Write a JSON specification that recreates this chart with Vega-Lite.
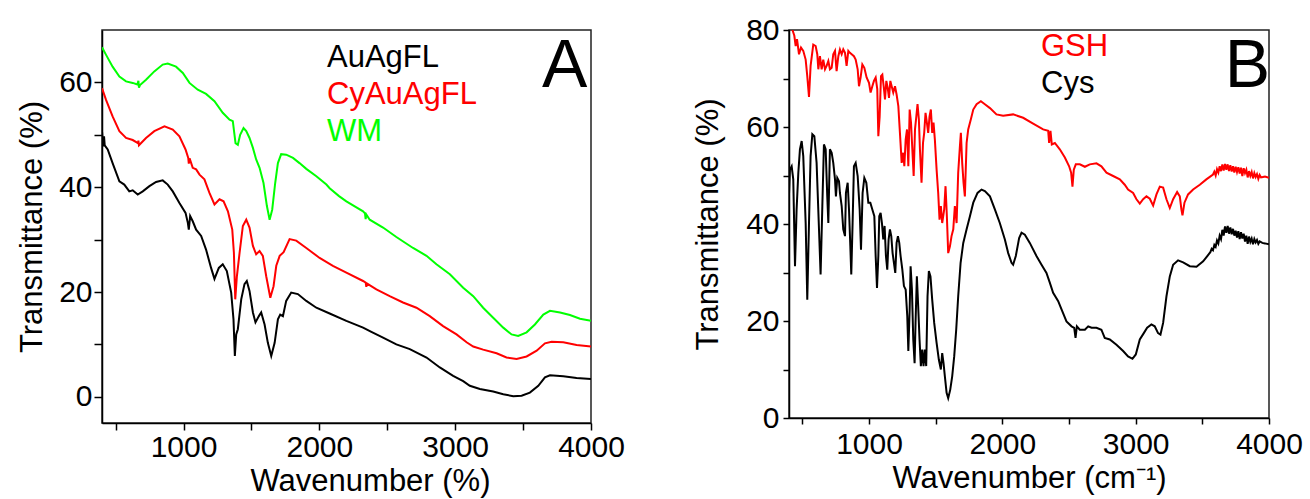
{
"$schema": "https://vega.github.io/schema/vega-lite/v6.json",
"background": "white",
"padding": {"left": 15, "top": 14, "right": 5, "bottom": 2},
"spacing": 198,
"bounds": "flush",
"config": {
 "view": {"stroke": "#222222", "strokeWidth": 1.5},
 "font": "Liberation Sans",
 "axis": {"grid": false, "domainColor": "black", "domainWidth": 1.5, "tickColor": "black", "tickWidth": 1.5, "labelFont": "Liberation Sans", "labelFontSize": 30, "labelColor": "black", "titleFont": "Liberation Sans", "titleFontSize": 31, "titleFontWeight": "normal", "titleColor": "black", "labelFlush": false, "labelOverlap": false, "labelBound": false},
 "legend": {"labelFont": "Liberation Sans", "labelFontSize": 31, "symbolSize": 0, "symbolOpacity": 0, "symbolStrokeWidth": 0, "labelOffset": 0, "padding": 0, "labelLimit": 0, "rowPadding": 5}
},
"resolve": {"scale": {"color": "independent", "x": "independent", "y": "independent"}, "legend": {"color": "independent"}},
"hconcat": [
{
 "width": 489, "height": 393,
 "data": {"values": [
{"series":"WM","wavenumber":400,"transmittance":66.7},{"series":"WM","wavenumber":429,"transmittance":65.3},{"series":"WM","wavenumber":478,"transmittance":63.0},{"series":"WM","wavenumber":528,"transmittance":61.1},{"series":"WM","wavenumber":577,"transmittance":60.2},{"series":"WM","wavenumber":626,"transmittance":59.9},{"series":"WM","wavenumber":660,"transmittance":59.6},{"series":"WM","wavenumber":668,"transmittance":60.3},{"series":"WM","wavenumber":672,"transmittance":59.0},{"series":"WM","wavenumber":680,"transmittance":59.5},{"series":"WM","wavenumber":724,"transmittance":60.5},{"series":"WM","wavenumber":785,"transmittance":62.1},{"series":"WM","wavenumber":847,"transmittance":63.4},{"series":"WM","wavenumber":884,"transmittance":63.6},{"series":"WM","wavenumber":945,"transmittance":63.0},{"series":"WM","wavenumber":995,"transmittance":61.8},{"series":"WM","wavenumber":1044,"transmittance":59.9},{"series":"WM","wavenumber":1105,"transmittance":58.6},{"series":"WM","wavenumber":1166,"transmittance":57.8},{"series":"WM","wavenumber":1228,"transmittance":56.4},{"series":"WM","wavenumber":1289,"transmittance":54.2},{"series":"WM","wavenumber":1339,"transmittance":52.9},{"series":"WM","wavenumber":1363,"transmittance":52.6},{"series":"WM","wavenumber":1383,"transmittance":48.4},{"series":"WM","wavenumber":1400,"transmittance":48.1},{"series":"WM","wavenumber":1417,"transmittance":50.0},{"series":"WM","wavenumber":1442,"transmittance":51.3},{"series":"WM","wavenumber":1462,"transmittance":50.7},{"series":"WM","wavenumber":1486,"transmittance":49.4},{"series":"WM","wavenumber":1511,"transmittance":47.5},{"series":"WM","wavenumber":1535,"transmittance":45.3},{"series":"WM","wavenumber":1560,"transmittance":43.7},{"series":"WM","wavenumber":1589,"transmittance":40.8},{"series":"WM","wavenumber":1614,"transmittance":36.4},{"series":"WM","wavenumber":1634,"transmittance":33.8},{"series":"WM","wavenumber":1653,"transmittance":35.7},{"series":"WM","wavenumber":1675,"transmittance":40.8},{"series":"WM","wavenumber":1695,"transmittance":44.6},{"series":"WM","wavenumber":1719,"transmittance":46.3},{"series":"WM","wavenumber":1756,"transmittance":46.2},{"series":"WM","wavenumber":1806,"transmittance":45.6},{"series":"WM","wavenumber":1854,"transmittance":44.6},{"series":"WM","wavenumber":1904,"transmittance":43.5},{"series":"WM","wavenumber":1978,"transmittance":42.1},{"series":"WM","wavenumber":2052,"transmittance":40.5},{"series":"WM","wavenumber":2076,"transmittance":39.8},{"series":"WM","wavenumber":2145,"transmittance":38.3},{"series":"WM","wavenumber":2199,"transmittance":37.3},{"series":"WM","wavenumber":2322,"transmittance":35.4},{"series":"WM","wavenumber":2336,"transmittance":35.0},{"series":"WM","wavenumber":2341,"transmittance":33.9},{"series":"WM","wavenumber":2346,"transmittance":34.8},{"series":"WM","wavenumber":2371,"transmittance":33.8},{"series":"WM","wavenumber":2469,"transmittance":32.3},{"series":"WM","wavenumber":2567,"transmittance":30.5},{"series":"WM","wavenumber":2690,"transmittance":28.4},{"series":"WM","wavenumber":2789,"transmittance":26.9},{"series":"WM","wavenumber":2862,"transmittance":25.3},{"series":"WM","wavenumber":2961,"transmittance":23.4},{"series":"WM","wavenumber":3059,"transmittance":20.8},{"series":"WM","wavenumber":3133,"transmittance":19.2},{"series":"WM","wavenumber":3206,"transmittance":17.0},{"series":"WM","wavenumber":3280,"transmittance":15.1},{"series":"WM","wavenumber":3354,"transmittance":13.2},{"series":"WM","wavenumber":3415,"transmittance":11.9},{"series":"WM","wavenumber":3464,"transmittance":11.6},{"series":"WM","wavenumber":3526,"transmittance":12.3},{"series":"WM","wavenumber":3587,"transmittance":13.8},{"series":"WM","wavenumber":3649,"transmittance":15.7},{"series":"WM","wavenumber":3698,"transmittance":16.4},{"series":"WM","wavenumber":3772,"transmittance":16.1},{"series":"WM","wavenumber":3845,"transmittance":15.6},{"series":"WM","wavenumber":3919,"transmittance":14.9},{"series":"WM","wavenumber":4000,"transmittance":14.5},
{"series":"CyAuAgFL","wavenumber":400,"transmittance":58.9},{"series":"CyAuAgFL","wavenumber":429,"transmittance":56.7},{"series":"CyAuAgFL","wavenumber":478,"transmittance":53.5},{"series":"CyAuAgFL","wavenumber":528,"transmittance":50.7},{"series":"CyAuAgFL","wavenumber":577,"transmittance":49.4},{"series":"CyAuAgFL","wavenumber":626,"transmittance":49.0},{"series":"CyAuAgFL","wavenumber":665,"transmittance":48.4},{"series":"CyAuAgFL","wavenumber":668,"transmittance":48.9},{"series":"CyAuAgFL","wavenumber":672,"transmittance":48.0},{"series":"CyAuAgFL","wavenumber":724,"transmittance":49.4},{"series":"CyAuAgFL","wavenumber":785,"transmittance":50.7},{"series":"CyAuAgFL","wavenumber":860,"transmittance":51.6},{"series":"CyAuAgFL","wavenumber":921,"transmittance":51.0},{"series":"CyAuAgFL","wavenumber":970,"transmittance":49.7},{"series":"CyAuAgFL","wavenumber":1015,"transmittance":47.2},{"series":"CyAuAgFL","wavenumber":1035,"transmittance":45.6},{"series":"CyAuAgFL","wavenumber":1039,"transmittance":44.5},{"series":"CyAuAgFL","wavenumber":1045,"transmittance":45.5},{"series":"CyAuAgFL","wavenumber":1068,"transmittance":43.7},{"series":"CyAuAgFL","wavenumber":1093,"transmittance":43.4},{"series":"CyAuAgFL","wavenumber":1118,"transmittance":42.4},{"series":"CyAuAgFL","wavenumber":1154,"transmittance":41.5},{"series":"CyAuAgFL","wavenumber":1191,"transmittance":38.9},{"series":"CyAuAgFL","wavenumber":1228,"transmittance":36.7},{"series":"CyAuAgFL","wavenumber":1265,"transmittance":37.7},{"series":"CyAuAgFL","wavenumber":1295,"transmittance":37.3},{"series":"CyAuAgFL","wavenumber":1327,"transmittance":35.4},{"series":"CyAuAgFL","wavenumber":1359,"transmittance":31.9},{"series":"CyAuAgFL","wavenumber":1371,"transmittance":27.5},{"series":"CyAuAgFL","wavenumber":1381,"transmittance":18.6},{"series":"CyAuAgFL","wavenumber":1393,"transmittance":23.0},{"series":"CyAuAgFL","wavenumber":1413,"transmittance":27.5},{"series":"CyAuAgFL","wavenumber":1437,"transmittance":32.6},{"series":"CyAuAgFL","wavenumber":1462,"transmittance":33.8},{"series":"CyAuAgFL","wavenumber":1486,"transmittance":32.3},{"series":"CyAuAgFL","wavenumber":1511,"transmittance":28.8},{"series":"CyAuAgFL","wavenumber":1535,"transmittance":27.2},{"series":"CyAuAgFL","wavenumber":1560,"transmittance":27.8},{"series":"CyAuAgFL","wavenumber":1584,"transmittance":26.9},{"series":"CyAuAgFL","wavenumber":1609,"transmittance":23.0},{"series":"CyAuAgFL","wavenumber":1639,"transmittance":18.9},{"series":"CyAuAgFL","wavenumber":1663,"transmittance":21.1},{"series":"CyAuAgFL","wavenumber":1683,"transmittance":25.0},{"series":"CyAuAgFL","wavenumber":1708,"transmittance":26.9},{"series":"CyAuAgFL","wavenumber":1737,"transmittance":27.6},{"series":"CyAuAgFL","wavenumber":1781,"transmittance":30.1},{"series":"CyAuAgFL","wavenumber":1830,"transmittance":29.8},{"series":"CyAuAgFL","wavenumber":1904,"transmittance":28.4},{"series":"CyAuAgFL","wavenumber":2002,"transmittance":26.5},{"series":"CyAuAgFL","wavenumber":2100,"transmittance":25.0},{"series":"CyAuAgFL","wavenumber":2199,"transmittance":23.7},{"series":"CyAuAgFL","wavenumber":2322,"transmittance":22.1},{"series":"CyAuAgFL","wavenumber":2341,"transmittance":21.8},{"series":"CyAuAgFL","wavenumber":2346,"transmittance":21.0},{"series":"CyAuAgFL","wavenumber":2352,"transmittance":21.6},{"series":"CyAuAgFL","wavenumber":2420,"transmittance":20.5},{"series":"CyAuAgFL","wavenumber":2518,"transmittance":19.2},{"series":"CyAuAgFL","wavenumber":2616,"transmittance":18.0},{"series":"CyAuAgFL","wavenumber":2715,"transmittance":17.0},{"series":"CyAuAgFL","wavenumber":2813,"transmittance":15.4},{"series":"CyAuAgFL","wavenumber":2911,"transmittance":13.5},{"series":"CyAuAgFL","wavenumber":3010,"transmittance":11.9},{"series":"CyAuAgFL","wavenumber":3084,"transmittance":10.4},{"series":"CyAuAgFL","wavenumber":3133,"transmittance":9.6},{"series":"CyAuAgFL","wavenumber":3206,"transmittance":9.0},{"series":"CyAuAgFL","wavenumber":3305,"transmittance":8.3},{"series":"CyAuAgFL","wavenumber":3378,"transmittance":7.5},{"series":"CyAuAgFL","wavenumber":3452,"transmittance":7.2},{"series":"CyAuAgFL","wavenumber":3526,"transmittance":7.7},{"series":"CyAuAgFL","wavenumber":3600,"transmittance":8.8},{"series":"CyAuAgFL","wavenumber":3661,"transmittance":10.2},{"series":"CyAuAgFL","wavenumber":3710,"transmittance":10.5},{"series":"CyAuAgFL","wavenumber":3796,"transmittance":10.4},{"series":"CyAuAgFL","wavenumber":3894,"transmittance":9.9},{"series":"CyAuAgFL","wavenumber":4000,"transmittance":9.6},
{"series":"AuAgFL","wavenumber":400,"transmittance":50.7},{"series":"AuAgFL","wavenumber":405,"transmittance":49.0},{"series":"AuAgFL","wavenumber":410,"transmittance":47.8},{"series":"AuAgFL","wavenumber":415,"transmittance":49.7},{"series":"AuAgFL","wavenumber":420,"transmittance":48.0},{"series":"AuAgFL","wavenumber":442,"transmittance":47.2},{"series":"AuAgFL","wavenumber":478,"transmittance":44.6},{"series":"AuAgFL","wavenumber":528,"transmittance":41.1},{"series":"AuAgFL","wavenumber":564,"transmittance":40.5},{"series":"AuAgFL","wavenumber":601,"transmittance":39.2},{"series":"AuAgFL","wavenumber":626,"transmittance":39.4},{"series":"AuAgFL","wavenumber":663,"transmittance":38.6},{"series":"AuAgFL","wavenumber":700,"transmittance":39.2},{"series":"AuAgFL","wavenumber":749,"transmittance":40.2},{"series":"AuAgFL","wavenumber":798,"transmittance":41.0},{"series":"AuAgFL","wavenumber":847,"transmittance":41.3},{"series":"AuAgFL","wavenumber":884,"transmittance":40.5},{"series":"AuAgFL","wavenumber":921,"transmittance":39.2},{"series":"AuAgFL","wavenumber":970,"transmittance":37.0},{"series":"AuAgFL","wavenumber":1015,"transmittance":35.1},{"series":"AuAgFL","wavenumber":1032,"transmittance":33.2},{"series":"AuAgFL","wavenumber":1039,"transmittance":31.9},{"series":"AuAgFL","wavenumber":1049,"transmittance":34.5},{"series":"AuAgFL","wavenumber":1068,"transmittance":33.5},{"series":"AuAgFL","wavenumber":1093,"transmittance":31.9},{"series":"AuAgFL","wavenumber":1130,"transmittance":30.7},{"series":"AuAgFL","wavenumber":1166,"transmittance":28.1},{"series":"AuAgFL","wavenumber":1203,"transmittance":24.6},{"series":"AuAgFL","wavenumber":1228,"transmittance":22.5},{"series":"AuAgFL","wavenumber":1260,"transmittance":24.6},{"series":"AuAgFL","wavenumber":1289,"transmittance":25.3},{"series":"AuAgFL","wavenumber":1319,"transmittance":24.0},{"series":"AuAgFL","wavenumber":1351,"transmittance":19.9},{"series":"AuAgFL","wavenumber":1368,"transmittance":14.8},{"series":"AuAgFL","wavenumber":1378,"transmittance":7.8},{"series":"AuAgFL","wavenumber":1388,"transmittance":11.9},{"series":"AuAgFL","wavenumber":1400,"transmittance":12.9},{"series":"AuAgFL","wavenumber":1425,"transmittance":18.6},{"series":"AuAgFL","wavenumber":1449,"transmittance":21.5},{"series":"AuAgFL","wavenumber":1466,"transmittance":22.1},{"series":"AuAgFL","wavenumber":1486,"transmittance":20.2},{"series":"AuAgFL","wavenumber":1511,"transmittance":16.1},{"series":"AuAgFL","wavenumber":1530,"transmittance":14.2},{"series":"AuAgFL","wavenumber":1555,"transmittance":15.4},{"series":"AuAgFL","wavenumber":1572,"transmittance":16.1},{"series":"AuAgFL","wavenumber":1597,"transmittance":13.8},{"series":"AuAgFL","wavenumber":1621,"transmittance":10.3},{"series":"AuAgFL","wavenumber":1646,"transmittance":7.8},{"series":"AuAgFL","wavenumber":1671,"transmittance":10.3},{"series":"AuAgFL","wavenumber":1695,"transmittance":14.8},{"series":"AuAgFL","wavenumber":1712,"transmittance":15.7},{"series":"AuAgFL","wavenumber":1732,"transmittance":15.4},{"series":"AuAgFL","wavenumber":1756,"transmittance":18.3},{"series":"AuAgFL","wavenumber":1793,"transmittance":19.9},{"series":"AuAgFL","wavenumber":1842,"transmittance":19.6},{"series":"AuAgFL","wavenumber":1904,"transmittance":18.3},{"series":"AuAgFL","wavenumber":1978,"transmittance":17.0},{"series":"AuAgFL","wavenumber":2076,"transmittance":15.9},{"series":"AuAgFL","wavenumber":2199,"transmittance":14.5},{"series":"AuAgFL","wavenumber":2322,"transmittance":13.2},{"series":"AuAgFL","wavenumber":2383,"transmittance":12.4},{"series":"AuAgFL","wavenumber":2469,"transmittance":11.3},{"series":"AuAgFL","wavenumber":2567,"transmittance":10.0},{"series":"AuAgFL","wavenumber":2666,"transmittance":9.1},{"series":"AuAgFL","wavenumber":2789,"transmittance":7.5},{"series":"AuAgFL","wavenumber":2887,"transmittance":5.6},{"series":"AuAgFL","wavenumber":2985,"transmittance":4.0},{"series":"AuAgFL","wavenumber":3059,"transmittance":3.0},{"series":"AuAgFL","wavenumber":3108,"transmittance":2.1},{"series":"AuAgFL","wavenumber":3182,"transmittance":1.5},{"series":"AuAgFL","wavenumber":3280,"transmittance":1.0},{"series":"AuAgFL","wavenumber":3354,"transmittance":0.5},{"series":"AuAgFL","wavenumber":3428,"transmittance":0.1},{"series":"AuAgFL","wavenumber":3489,"transmittance":0.2},{"series":"AuAgFL","wavenumber":3550,"transmittance":0.8},{"series":"AuAgFL","wavenumber":3612,"transmittance":2.1},{"series":"AuAgFL","wavenumber":3661,"transmittance":3.7},{"series":"AuAgFL","wavenumber":3698,"transmittance":4.1},{"series":"AuAgFL","wavenumber":3796,"transmittance":3.9},{"series":"AuAgFL","wavenumber":3894,"transmittance":3.6},{"series":"AuAgFL","wavenumber":4000,"transmittance":3.4}
 ]},
 "layer": [
  {
   "mark": {"type": "line", "strokeWidth": 2, "clip": true},
   "encoding": {
    "x": {"field": "wavenumber", "type": "quantitative", "scale": {"domain": [400, 4000], "nice": false, "zero": false},
          "axis": {"title": "Wavenumber (%)", "values": [500,1000,1500,2000,2500,3000,3500,4000], "labelExpr": "datum.value % 1000 === 0 ? datum.label : ''", "format": "d", "tickSize": 7, "labelPadding": 2, "titlePadding": 4, "titleX": 268}},
    "y": {"field": "transmittance", "type": "quantitative", "scale": {"domain": [-5, 70], "nice": false, "zero": false},
          "axis": {"title": "Transmittance (%)", "values": [0,10,20,30,40,50,60], "labelExpr": "datum.value % 20 === 0 ? datum.label : ''", "tickSize": 8, "labelPadding": 2, "titlePadding": 10}},
    "color": {"field": "series", "type": "nominal", "scale": {"domain": ["AuAgFL","CyAuAgFL","WM"], "range": ["#000000","#ff0000","#00ff00"]},
          "legend": {"title": null, "orient": "none", "legendX": 194, "legendY": 12,
                     "encode": {"labels": {"update": {"fill": {"signal": "datum.value === 'CyAuAgFL' ? '#ff0000' : datum.value === 'WM' ? '#00ff00' : '#000000'"}}}}}}
   }
  },
  {
   "data": {"values": [{"label": "A"}]},
   "mark": {"type": "text", "fontSize": 68, "font": "Liberation Sans", "align": "right", "baseline": "alphabetic", "color": "black"},
   "encoding": {
    "x": {"datum": 3974, "type": "quantitative", "axis": {"title": "Wavenumber (%)"}},
    "y": {"datum": 59.1, "type": "quantitative", "axis": {"title": "Transmittance (%)"}},
    "text": {"field": "label"}
   }
  }
 ]
},
{
 "width": 480, "height": 388,
 "data": {"values": [
{"series":"GSH","wavenumber":400,"transmittance":81},{"series":"GSH","wavenumber":425,"transmittance":80.1},{"series":"GSH","wavenumber":440,"transmittance":78.8},{"series":"GSH","wavenumber":450,"transmittance":76.7},{"series":"GSH","wavenumber":460,"transmittance":78.1},{"series":"GSH","wavenumber":475,"transmittance":75.0},{"series":"GSH","wavenumber":490,"transmittance":76.4},{"series":"GSH","wavenumber":507,"transmittance":75.7},{"series":"GSH","wavenumber":525,"transmittance":73.9},{"series":"GSH","wavenumber":537,"transmittance":70.5},{"series":"GSH","wavenumber":550,"transmittance":66.2},{"series":"GSH","wavenumber":562,"transmittance":72.6},{"series":"GSH","wavenumber":582,"transmittance":77.0},{"series":"GSH","wavenumber":600,"transmittance":76.7},{"series":"GSH","wavenumber":612,"transmittance":75.0},{"series":"GSH","wavenumber":620,"transmittance":71.9},{"series":"GSH","wavenumber":632,"transmittance":74.6},{"series":"GSH","wavenumber":645,"transmittance":71.9},{"series":"GSH","wavenumber":657,"transmittance":73.9},{"series":"GSH","wavenumber":670,"transmittance":71.9},{"series":"GSH","wavenumber":682,"transmittance":72.6},{"series":"GSH","wavenumber":695,"transmittance":73.6},{"series":"GSH","wavenumber":707,"transmittance":71.9},{"series":"GSH","wavenumber":720,"transmittance":72.2},{"series":"GSH","wavenumber":732,"transmittance":75.0},{"series":"GSH","wavenumber":745,"transmittance":75.7},{"series":"GSH","wavenumber":757,"transmittance":71.5},{"series":"GSH","wavenumber":770,"transmittance":74.6},{"series":"GSH","wavenumber":782,"transmittance":76.0},{"series":"GSH","wavenumber":795,"transmittance":75.0},{"series":"GSH","wavenumber":807,"transmittance":76.0},{"series":"GSH","wavenumber":820,"transmittance":75.3},{"series":"GSH","wavenumber":832,"transmittance":72.6},{"series":"GSH","wavenumber":845,"transmittance":75.7},{"series":"GSH","wavenumber":857,"transmittance":75.3},{"series":"GSH","wavenumber":870,"transmittance":75.0},{"series":"GSH","wavenumber":887,"transmittance":74.6},{"series":"GSH","wavenumber":900,"transmittance":73.9},{"series":"GSH","wavenumber":915,"transmittance":71.9},{"series":"GSH","wavenumber":925,"transmittance":68.4},{"series":"GSH","wavenumber":937,"transmittance":70.2},{"series":"GSH","wavenumber":950,"transmittance":72.9},{"series":"GSH","wavenumber":965,"transmittance":72.2},{"series":"GSH","wavenumber":982,"transmittance":70.2},{"series":"GSH","wavenumber":1000,"transmittance":69.1},{"series":"GSH","wavenumber":1012,"transmittance":67.1},{"series":"GSH","wavenumber":1025,"transmittance":68.4},{"series":"GSH","wavenumber":1037,"transmittance":69.5},{"series":"GSH","wavenumber":1050,"transmittance":70.2},{"series":"GSH","wavenumber":1062,"transmittance":67.8},{"series":"GSH","wavenumber":1070,"transmittance":58.1},{"series":"GSH","wavenumber":1080,"transmittance":62.2},{"series":"GSH","wavenumber":1090,"transmittance":70.5},{"series":"GSH","wavenumber":1100,"transmittance":70.8},{"series":"GSH","wavenumber":1110,"transmittance":68.4},{"series":"GSH","wavenumber":1120,"transmittance":65.7},{"series":"GSH","wavenumber":1130,"transmittance":69.5},{"series":"GSH","wavenumber":1140,"transmittance":68.1},{"series":"GSH","wavenumber":1150,"transmittance":66.0},{"series":"GSH","wavenumber":1160,"transmittance":69.5},{"series":"GSH","wavenumber":1170,"transmittance":68.4},{"series":"GSH","wavenumber":1182,"transmittance":67.1},{"series":"GSH","wavenumber":1195,"transmittance":68.4},{"series":"GSH","wavenumber":1207,"transmittance":66.7},{"series":"GSH","wavenumber":1220,"transmittance":64.3},{"series":"GSH","wavenumber":1232,"transmittance":58.8},{"series":"GSH","wavenumber":1245,"transmittance":52.6},{"series":"GSH","wavenumber":1257,"transmittance":54.7},{"series":"GSH","wavenumber":1265,"transmittance":51.9},{"series":"GSH","wavenumber":1275,"transmittance":57.4},{"series":"GSH","wavenumber":1285,"transmittance":59.5},{"series":"GSH","wavenumber":1295,"transmittance":51.9},{"series":"GSH","wavenumber":1305,"transmittance":63.6},{"series":"GSH","wavenumber":1315,"transmittance":60.9},{"series":"GSH","wavenumber":1325,"transmittance":55.4},{"series":"GSH","wavenumber":1335,"transmittance":49.9},{"series":"GSH","wavenumber":1345,"transmittance":59.5},{"series":"GSH","wavenumber":1355,"transmittance":62.2},{"series":"GSH","wavenumber":1364,"transmittance":64.7},{"series":"GSH","wavenumber":1374,"transmittance":61.6},{"series":"GSH","wavenumber":1382,"transmittance":55.4},{"series":"GSH","wavenumber":1394,"transmittance":48.5},{"series":"GSH","wavenumber":1405,"transmittance":56.7},{"series":"GSH","wavenumber":1414,"transmittance":58.8},{"series":"GSH","wavenumber":1424,"transmittance":62.9},{"series":"GSH","wavenumber":1434,"transmittance":60.9},{"series":"GSH","wavenumber":1444,"transmittance":58.8},{"series":"GSH","wavenumber":1454,"transmittance":62.2},{"series":"GSH","wavenumber":1464,"transmittance":63.6},{"series":"GSH","wavenumber":1474,"transmittance":58.8},{"series":"GSH","wavenumber":1484,"transmittance":60.9},{"series":"GSH","wavenumber":1494,"transmittance":57.4},{"series":"GSH","wavenumber":1507,"transmittance":51.2},{"series":"GSH","wavenumber":1519,"transmittance":46.4},{"series":"GSH","wavenumber":1529,"transmittance":40.9},{"series":"GSH","wavenumber":1539,"transmittance":43.7},{"series":"GSH","wavenumber":1549,"transmittance":40.2},{"series":"GSH","wavenumber":1564,"transmittance":43.0},{"series":"GSH","wavenumber":1574,"transmittance":47.8},{"series":"GSH","wavenumber":1584,"transmittance":41.6},{"series":"GSH","wavenumber":1594,"transmittance":34.0},{"series":"GSH","wavenumber":1607,"transmittance":35.4},{"series":"GSH","wavenumber":1619,"transmittance":37.5},{"series":"GSH","wavenumber":1632,"transmittance":38.9},{"series":"GSH","wavenumber":1644,"transmittance":43.7},{"series":"GSH","wavenumber":1657,"transmittance":40.2},{"series":"GSH","wavenumber":1669,"transmittance":50.6},{"series":"GSH","wavenumber":1682,"transmittance":56.1},{"series":"GSH","wavenumber":1689,"transmittance":58.8},{"series":"GSH","wavenumber":1699,"transmittance":52.6},{"series":"GSH","wavenumber":1709,"transmittance":48.5},{"series":"GSH","wavenumber":1719,"transmittance":45.7},{"series":"GSH","wavenumber":1732,"transmittance":56.7},{"series":"GSH","wavenumber":1744,"transmittance":59.5},{"series":"GSH","wavenumber":1764,"transmittance":61.6},{"series":"GSH","wavenumber":1782,"transmittance":63.6},{"series":"GSH","wavenumber":1807,"transmittance":64.7},{"series":"GSH","wavenumber":1839,"transmittance":65.3},{"series":"GSH","wavenumber":1869,"transmittance":64.7},{"series":"GSH","wavenumber":1907,"transmittance":63.9},{"series":"GSH","wavenumber":1956,"transmittance":62.6},{"series":"GSH","wavenumber":2006,"transmittance":62.3},{"series":"GSH","wavenumber":2081,"transmittance":62.6},{"series":"GSH","wavenumber":2156,"transmittance":61.9},{"series":"GSH","wavenumber":2231,"transmittance":60.7},{"series":"GSH","wavenumber":2306,"transmittance":59.5},{"series":"GSH","wavenumber":2344,"transmittance":59.2},{"series":"GSH","wavenumber":2351,"transmittance":56.7},{"series":"GSH","wavenumber":2361,"transmittance":59.2},{"series":"GSH","wavenumber":2371,"transmittance":56.4},{"series":"GSH","wavenumber":2394,"transmittance":56.7},{"series":"GSH","wavenumber":2431,"transmittance":55.4},{"series":"GSH","wavenumber":2469,"transmittance":53.7},{"series":"GSH","wavenumber":2501,"transmittance":51.9},{"series":"GSH","wavenumber":2516,"transmittance":50.6},{"series":"GSH","wavenumber":2526,"transmittance":47.7},{"series":"GSH","wavenumber":2536,"transmittance":51.2},{"series":"GSH","wavenumber":2551,"transmittance":52.3},{"series":"GSH","wavenumber":2581,"transmittance":52.3},{"series":"GSH","wavenumber":2619,"transmittance":51.8},{"series":"GSH","wavenumber":2656,"transmittance":52.3},{"series":"GSH","wavenumber":2706,"transmittance":52.5},{"series":"GSH","wavenumber":2743,"transmittance":51.9},{"series":"GSH","wavenumber":2781,"transmittance":50.6},{"series":"GSH","wavenumber":2831,"transmittance":49.9},{"series":"GSH","wavenumber":2881,"transmittance":49.2},{"series":"GSH","wavenumber":2918,"transmittance":48.1},{"series":"GSH","wavenumber":2943,"transmittance":47.1},{"series":"GSH","wavenumber":2981,"transmittance":46.4},{"series":"GSH","wavenumber":3006,"transmittance":45.1},{"series":"GSH","wavenumber":3031,"transmittance":44.2},{"series":"GSH","wavenumber":3056,"transmittance":45.1},{"series":"GSH","wavenumber":3081,"transmittance":45.7},{"series":"GSH","wavenumber":3106,"transmittance":45.2},{"series":"GSH","wavenumber":3131,"transmittance":43.8},{"series":"GSH","wavenumber":3156,"transmittance":46.1},{"series":"GSH","wavenumber":3181,"transmittance":47.7},{"series":"GSH","wavenumber":3206,"transmittance":47.5},{"series":"GSH","wavenumber":3231,"transmittance":45.1},{"series":"GSH","wavenumber":3256,"transmittance":43.3},{"series":"GSH","wavenumber":3281,"transmittance":45.1},{"series":"GSH","wavenumber":3311,"transmittance":46.6},{"series":"GSH","wavenumber":3331,"transmittance":45.7},{"series":"GSH","wavenumber":3343,"transmittance":43.0},{"series":"GSH","wavenumber":3351,"transmittance":41.8},{"series":"GSH","wavenumber":3366,"transmittance":44.4},{"series":"GSH","wavenumber":3393,"transmittance":46.1},{"series":"GSH","wavenumber":3431,"transmittance":47.1},{"series":"GSH","wavenumber":3481,"transmittance":48.1},{"series":"GSH","wavenumber":3530,"transmittance":49.2},{"series":"GSH","wavenumber":3580,"transmittance":50.2},{"series":"GSH","wavenumber":3590,"transmittance":50.8},{"series":"GSH","wavenumber":3600,"transmittance":50.0},{"series":"GSH","wavenumber":3610,"transmittance":51.3},{"series":"GSH","wavenumber":3620,"transmittance":50.6},{"series":"GSH","wavenumber":3630,"transmittance":51.9},{"series":"GSH","wavenumber":3640,"transmittance":50.9},{"series":"GSH","wavenumber":3650,"transmittance":52.3},{"series":"GSH","wavenumber":3660,"transmittance":51.0},{"series":"GSH","wavenumber":3670,"transmittance":52.4},{"series":"GSH","wavenumber":3680,"transmittance":51.2},{"series":"GSH","wavenumber":3690,"transmittance":52.3},{"series":"GSH","wavenumber":3700,"transmittance":50.9},{"series":"GSH","wavenumber":3710,"transmittance":52.1},{"series":"GSH","wavenumber":3720,"transmittance":50.8},{"series":"GSH","wavenumber":3730,"transmittance":51.9},{"series":"GSH","wavenumber":3740,"transmittance":50.6},{"series":"GSH","wavenumber":3750,"transmittance":51.8},{"series":"GSH","wavenumber":3760,"transmittance":50.7},{"series":"GSH","wavenumber":3770,"transmittance":51.7},{"series":"GSH","wavenumber":3780,"transmittance":50.4},{"series":"GSH","wavenumber":3790,"transmittance":51.6},{"series":"GSH","wavenumber":3800,"transmittance":49.9},{"series":"GSH","wavenumber":3810,"transmittance":51.5},{"series":"GSH","wavenumber":3820,"transmittance":50.5},{"series":"GSH","wavenumber":3830,"transmittance":51.2},{"series":"GSH","wavenumber":3840,"transmittance":49.6},{"series":"GSH","wavenumber":3850,"transmittance":50.9},{"series":"GSH","wavenumber":3860,"transmittance":49.9},{"series":"GSH","wavenumber":3870,"transmittance":50.7},{"series":"GSH","wavenumber":3880,"transmittance":49.4},{"series":"GSH","wavenumber":3890,"transmittance":50.5},{"series":"GSH","wavenumber":3900,"transmittance":49.7},{"series":"GSH","wavenumber":3910,"transmittance":50.3},{"series":"GSH","wavenumber":3920,"transmittance":49.3},{"series":"GSH","wavenumber":3930,"transmittance":50.1},{"series":"GSH","wavenumber":3940,"transmittance":49.6},{"series":"GSH","wavenumber":3955,"transmittance":49.7},{"series":"GSH","wavenumber":3970,"transmittance":49.8},{"series":"GSH","wavenumber":4000,"transmittance":49.5},
{"series":"Cys","wavenumber":400,"transmittance":46.1},{"series":"Cys","wavenumber":407,"transmittance":51.2},{"series":"Cys","wavenumber":420,"transmittance":51.9},{"series":"Cys","wavenumber":432,"transmittance":49.2},{"series":"Cys","wavenumber":445,"transmittance":31.3},{"series":"Cys","wavenumber":457,"transmittance":43.0},{"series":"Cys","wavenumber":470,"transmittance":50.6},{"series":"Cys","wavenumber":482,"transmittance":55.4},{"series":"Cys","wavenumber":495,"transmittance":57.1},{"series":"Cys","wavenumber":507,"transmittance":54.0},{"series":"Cys","wavenumber":525,"transmittance":40.2},{"series":"Cys","wavenumber":537,"transmittance":24.4},{"series":"Cys","wavenumber":550,"transmittance":40.2},{"series":"Cys","wavenumber":562,"transmittance":54.0},{"series":"Cys","wavenumber":575,"transmittance":58.5},{"series":"Cys","wavenumber":590,"transmittance":58.1},{"series":"Cys","wavenumber":607,"transmittance":52.6},{"series":"Cys","wavenumber":625,"transmittance":38.9},{"series":"Cys","wavenumber":637,"transmittance":29.6},{"series":"Cys","wavenumber":650,"transmittance":43.7},{"series":"Cys","wavenumber":662,"transmittance":56.4},{"series":"Cys","wavenumber":675,"transmittance":55.4},{"series":"Cys","wavenumber":687,"transmittance":45.7},{"series":"Cys","wavenumber":695,"transmittance":40.2},{"series":"Cys","wavenumber":707,"transmittance":55.4},{"series":"Cys","wavenumber":720,"transmittance":54.7},{"series":"Cys","wavenumber":732,"transmittance":52.6},{"series":"Cys","wavenumber":745,"transmittance":49.2},{"series":"Cys","wavenumber":752,"transmittance":45.7},{"series":"Cys","wavenumber":762,"transmittance":49.5},{"series":"Cys","wavenumber":775,"transmittance":48.8},{"series":"Cys","wavenumber":782,"transmittance":46.4},{"series":"Cys","wavenumber":795,"transmittance":43.7},{"series":"Cys","wavenumber":807,"transmittance":38.9},{"series":"Cys","wavenumber":820,"transmittance":37.5},{"series":"Cys","wavenumber":827,"transmittance":46.4},{"series":"Cys","wavenumber":840,"transmittance":48.5},{"series":"Cys","wavenumber":850,"transmittance":43.0},{"series":"Cys","wavenumber":860,"transmittance":35.4},{"series":"Cys","wavenumber":867,"transmittance":29.6},{"series":"Cys","wavenumber":877,"transmittance":40.2},{"series":"Cys","wavenumber":887,"transmittance":51.9},{"series":"Cys","wavenumber":900,"transmittance":52.6},{"series":"Cys","wavenumber":915,"transmittance":49.9},{"series":"Cys","wavenumber":930,"transmittance":43.0},{"series":"Cys","wavenumber":940,"transmittance":34.7},{"series":"Cys","wavenumber":952,"transmittance":46.4},{"series":"Cys","wavenumber":965,"transmittance":49.5},{"series":"Cys","wavenumber":980,"transmittance":48.5},{"series":"Cys","wavenumber":995,"transmittance":44.4},{"series":"Cys","wavenumber":1010,"transmittance":44.4},{"series":"Cys","wavenumber":1025,"transmittance":43.0},{"series":"Cys","wavenumber":1040,"transmittance":41.6},{"series":"Cys","wavenumber":1050,"transmittance":33.4},{"series":"Cys","wavenumber":1060,"transmittance":26.8},{"series":"Cys","wavenumber":1070,"transmittance":33.4},{"series":"Cys","wavenumber":1077,"transmittance":41.6},{"series":"Cys","wavenumber":1087,"transmittance":42.3},{"series":"Cys","wavenumber":1097,"transmittance":40.2},{"series":"Cys","wavenumber":1107,"transmittance":36.8},{"series":"Cys","wavenumber":1117,"transmittance":39.6},{"series":"Cys","wavenumber":1127,"transmittance":33.4},{"series":"Cys","wavenumber":1137,"transmittance":30.6},{"series":"Cys","wavenumber":1147,"transmittance":36.8},{"series":"Cys","wavenumber":1157,"transmittance":38.9},{"series":"Cys","wavenumber":1167,"transmittance":37.5},{"series":"Cys","wavenumber":1177,"transmittance":34.0},{"series":"Cys","wavenumber":1187,"transmittance":32.0},{"series":"Cys","wavenumber":1197,"transmittance":29.9},{"series":"Cys","wavenumber":1207,"transmittance":36.1},{"series":"Cys","wavenumber":1217,"transmittance":37.5},{"series":"Cys","wavenumber":1227,"transmittance":36.1},{"series":"Cys","wavenumber":1237,"transmittance":33.4},{"series":"Cys","wavenumber":1250,"transmittance":30.6},{"series":"Cys","wavenumber":1262,"transmittance":27.2},{"series":"Cys","wavenumber":1275,"transmittance":26.5},{"series":"Cys","wavenumber":1287,"transmittance":21.0},{"series":"Cys","wavenumber":1295,"transmittance":13.8},{"series":"Cys","wavenumber":1305,"transmittance":22.4},{"series":"Cys","wavenumber":1312,"transmittance":31.3},{"series":"Cys","wavenumber":1322,"transmittance":26.5},{"series":"Cys","wavenumber":1332,"transmittance":16.2},{"series":"Cys","wavenumber":1342,"transmittance":11.3},{"series":"Cys","wavenumber":1349,"transmittance":19.6},{"series":"Cys","wavenumber":1359,"transmittance":29.2},{"series":"Cys","wavenumber":1369,"transmittance":23.0},{"series":"Cys","wavenumber":1379,"transmittance":16.2},{"series":"Cys","wavenumber":1389,"transmittance":10.7},{"series":"Cys","wavenumber":1399,"transmittance":14.1},{"series":"Cys","wavenumber":1409,"transmittance":10.7},{"series":"Cys","wavenumber":1419,"transmittance":14.1},{"series":"Cys","wavenumber":1429,"transmittance":10.7},{"series":"Cys","wavenumber":1439,"transmittance":25.1},{"series":"Cys","wavenumber":1449,"transmittance":30.3},{"series":"Cys","wavenumber":1461,"transmittance":29.2},{"series":"Cys","wavenumber":1474,"transmittance":24.4},{"series":"Cys","wavenumber":1489,"transmittance":19.6},{"series":"Cys","wavenumber":1507,"transmittance":15.5},{"series":"Cys","wavenumber":1524,"transmittance":12.0},{"series":"Cys","wavenumber":1539,"transmittance":10.0},{"series":"Cys","wavenumber":1549,"transmittance":13.4},{"series":"Cys","wavenumber":1559,"transmittance":11.3},{"series":"Cys","wavenumber":1569,"transmittance":8.6},{"series":"Cys","wavenumber":1582,"transmittance":5.2},{"series":"Cys","wavenumber":1594,"transmittance":4.1},{"series":"Cys","wavenumber":1609,"transmittance":5.8},{"series":"Cys","wavenumber":1624,"transmittance":8.6},{"series":"Cys","wavenumber":1639,"transmittance":12.7},{"series":"Cys","wavenumber":1654,"transmittance":18.2},{"series":"Cys","wavenumber":1669,"transmittance":25.1},{"series":"Cys","wavenumber":1687,"transmittance":32.0},{"series":"Cys","wavenumber":1707,"transmittance":36.1},{"series":"Cys","wavenumber":1732,"transmittance":38.9},{"series":"Cys","wavenumber":1757,"transmittance":41.6},{"series":"Cys","wavenumber":1782,"transmittance":44.4},{"series":"Cys","wavenumber":1814,"transmittance":46.4},{"series":"Cys","wavenumber":1844,"transmittance":47.1},{"series":"Cys","wavenumber":1869,"transmittance":46.8},{"series":"Cys","wavenumber":1907,"transmittance":45.7},{"series":"Cys","wavenumber":1944,"transmittance":43.0},{"series":"Cys","wavenumber":1981,"transmittance":40.2},{"series":"Cys","wavenumber":2019,"transmittance":36.8},{"series":"Cys","wavenumber":2044,"transmittance":34.0},{"series":"Cys","wavenumber":2069,"transmittance":32.0},{"series":"Cys","wavenumber":2081,"transmittance":31.6},{"series":"Cys","wavenumber":2101,"transmittance":33.4},{"series":"Cys","wavenumber":2126,"transmittance":37.1},{"series":"Cys","wavenumber":2144,"transmittance":38.2},{"series":"Cys","wavenumber":2169,"transmittance":37.8},{"series":"Cys","wavenumber":2206,"transmittance":36.1},{"series":"Cys","wavenumber":2256,"transmittance":33.4},{"series":"Cys","wavenumber":2294,"transmittance":31.6},{"series":"Cys","wavenumber":2331,"transmittance":29.9},{"series":"Cys","wavenumber":2356,"transmittance":27.9},{"series":"Cys","wavenumber":2381,"transmittance":25.8},{"series":"Cys","wavenumber":2419,"transmittance":24.1},{"series":"Cys","wavenumber":2444,"transmittance":22.4},{"series":"Cys","wavenumber":2481,"transmittance":19.9},{"series":"Cys","wavenumber":2519,"transmittance":18.9},{"series":"Cys","wavenumber":2539,"transmittance":18.6},{"series":"Cys","wavenumber":2549,"transmittance":16.5},{"series":"Cys","wavenumber":2559,"transmittance":18.9},{"series":"Cys","wavenumber":2581,"transmittance":18.2},{"series":"Cys","wavenumber":2619,"transmittance":18.2},{"series":"Cys","wavenumber":2644,"transmittance":18.9},{"series":"Cys","wavenumber":2669,"transmittance":18.6},{"series":"Cys","wavenumber":2706,"transmittance":18.6},{"series":"Cys","wavenumber":2743,"transmittance":18.2},{"series":"Cys","wavenumber":2768,"transmittance":16.5},{"series":"Cys","wavenumber":2806,"transmittance":16.2},{"series":"Cys","wavenumber":2856,"transmittance":15.1},{"series":"Cys","wavenumber":2906,"transmittance":13.8},{"series":"Cys","wavenumber":2943,"transmittance":12.7},{"series":"Cys","wavenumber":2976,"transmittance":12.2},{"series":"Cys","wavenumber":3001,"transmittance":13.1},{"series":"Cys","wavenumber":3031,"transmittance":16.2},{"series":"Cys","wavenumber":3061,"transmittance":17.5},{"series":"Cys","wavenumber":3086,"transmittance":18.6},{"series":"Cys","wavenumber":3118,"transmittance":19.3},{"series":"Cys","wavenumber":3143,"transmittance":18.9},{"series":"Cys","wavenumber":3168,"transmittance":17.5},{"series":"Cys","wavenumber":3186,"transmittance":17.2},{"series":"Cys","wavenumber":3206,"transmittance":19.6},{"series":"Cys","wavenumber":3231,"transmittance":25.1},{"series":"Cys","wavenumber":3256,"transmittance":29.2},{"series":"Cys","wavenumber":3281,"transmittance":31.6},{"series":"Cys","wavenumber":3318,"transmittance":32.5},{"series":"Cys","wavenumber":3356,"transmittance":32.1},{"series":"Cys","wavenumber":3406,"transmittance":31.3},{"series":"Cys","wavenumber":3456,"transmittance":31.2},{"series":"Cys","wavenumber":3506,"transmittance":32.3},{"series":"Cys","wavenumber":3540,"transmittance":33.5},{"series":"Cys","wavenumber":3560,"transmittance":34.2},{"series":"Cys","wavenumber":3570,"transmittance":34.9},{"series":"Cys","wavenumber":3580,"transmittance":34.6},{"series":"Cys","wavenumber":3590,"transmittance":35.7},{"series":"Cys","wavenumber":3600,"transmittance":35.3},{"series":"Cys","wavenumber":3610,"transmittance":36.6},{"series":"Cys","wavenumber":3620,"transmittance":36.0},{"series":"Cys","wavenumber":3630,"transmittance":37.6},{"series":"Cys","wavenumber":3640,"transmittance":36.9},{"series":"Cys","wavenumber":3650,"transmittance":38.8},{"series":"Cys","wavenumber":3660,"transmittance":37.6},{"series":"Cys","wavenumber":3670,"transmittance":39.5},{"series":"Cys","wavenumber":3680,"transmittance":38.2},{"series":"Cys","wavenumber":3690,"transmittance":39.6},{"series":"Cys","wavenumber":3700,"transmittance":38.0},{"series":"Cys","wavenumber":3710,"transmittance":39.3},{"series":"Cys","wavenumber":3720,"transmittance":37.9},{"series":"Cys","wavenumber":3730,"transmittance":39.0},{"series":"Cys","wavenumber":3740,"transmittance":37.6},{"series":"Cys","wavenumber":3750,"transmittance":38.6},{"series":"Cys","wavenumber":3760,"transmittance":37.2},{"series":"Cys","wavenumber":3770,"transmittance":38.5},{"series":"Cys","wavenumber":3780,"transmittance":36.9},{"series":"Cys","wavenumber":3790,"transmittance":38.3},{"series":"Cys","wavenumber":3800,"transmittance":37.0},{"series":"Cys","wavenumber":3810,"transmittance":38.0},{"series":"Cys","wavenumber":3820,"transmittance":36.4},{"series":"Cys","wavenumber":3830,"transmittance":37.6},{"series":"Cys","wavenumber":3840,"transmittance":35.9},{"series":"Cys","wavenumber":3850,"transmittance":37.4},{"series":"Cys","wavenumber":3860,"transmittance":36.3},{"series":"Cys","wavenumber":3870,"transmittance":37.0},{"series":"Cys","wavenumber":3880,"transmittance":35.8},{"series":"Cys","wavenumber":3890,"transmittance":36.9},{"series":"Cys","wavenumber":3900,"transmittance":36.2},{"series":"Cys","wavenumber":3910,"transmittance":36.7},{"series":"Cys","wavenumber":3920,"transmittance":35.9},{"series":"Cys","wavenumber":3930,"transmittance":36.4},{"series":"Cys","wavenumber":3950,"transmittance":36.1},{"series":"Cys","wavenumber":3970,"transmittance":36.0},{"series":"Cys","wavenumber":4000,"transmittance":35.8}
 ]},
 "layer": [
  {
   "mark": {"type": "line", "strokeWidth": 2, "clip": true},
   "encoding": {
    "x": {"field": "wavenumber", "type": "quantitative", "scale": {"domain": [400, 4000], "nice": false, "zero": false},
          "axis": {"title": "Wavenumber (cm⁻¹)", "values": [500,1000,1500,2000,2500,3000,3500,4000], "labelExpr": "datum.value % 1000 === 0 ? datum.label : ''", "format": "d", "tickSize": 6, "labelPadding": 5, "titlePadding": 4}},
    "y": {"field": "transmittance", "type": "quantitative", "scale": {"domain": [0, 80], "nice": false, "zero": false},
          "axis": {"title": "Transmittance (%)", "values": [0,10,20,30,40,50,60,70,80], "labelExpr": "datum.value % 20 === 0 ? datum.label : ''", "tickSize": 6, "labelPadding": 4, "titlePadding": 21}},
    "color": {"field": "series", "type": "nominal", "scale": {"domain": ["GSH","Cys"], "range": ["#ff0000","#000000"]},
          "legend": {"title": null, "orient": "none", "legendX": 221, "legendY": 1,
                     "encode": {"labels": {"update": {"fill": {"signal": "datum.value === 'GSH' ? '#ff0000' : '#000000'"}}}}}}
   }
  },
  {
   "data": {"values": [{"label": "B"}]},
   "mark": {"type": "text", "fontSize": 68, "font": "Liberation Sans", "align": "right", "baseline": "alphabetic", "color": "black"},
   "encoding": {
    "x": {"datum": 4008, "type": "quantitative", "axis": {"title": "Wavenumber (cm⁻¹)"}},
    "y": {"datum": 68.2, "type": "quantitative", "axis": {"title": "Transmittance (%)"}},
    "text": {"field": "label"}
   }
  }
 ]
}
]
}
